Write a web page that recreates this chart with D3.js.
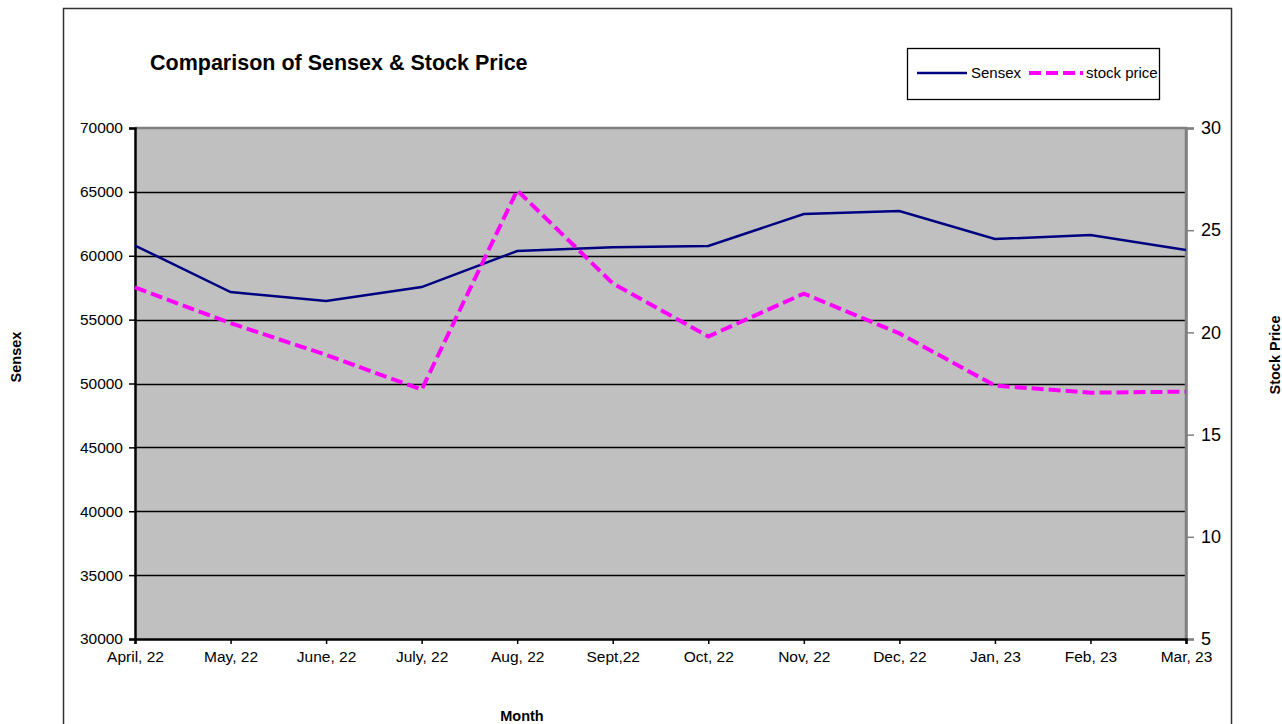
<!DOCTYPE html>
<html>
<head>
<meta charset="utf-8">
<script src="https://cdn.jsdelivr.net/npm/d3@7"></script>
<style>
  body { margin: 0; background: #fff; }
  svg { display: block; font-family: "Liberation Sans", Arial, sans-serif; }
</style>
</head>
<body>
<div id="area"></div>
<script>
const months = ["April, 22", "May, 22", "June, 22", "July, 22", "Aug, 22", "Sept,22", "Oct, 22", "Nov, 22", "Dec, 22", "Jan, 23", "Feb, 23", "Mar, 23"]
const sensex = [60800, 57160, 56460, 57550, 60370, 60660, 60760, 63270, 63500, 61310, 61620, 60450]
const stockPrice = [22.2, 20.45, 18.9, 17.2, 26.95, 22.4, 19.8, 21.9, 19.95, 17.4, 17.05, 17.1]
const sensexTicks = [30000, 35000, 40000, 45000, 50000, 55000, 60000, 65000, 70000]
const priceTicks = [5, 10, 15, 20, 25, 30]

const width = 1282
const height = 724
const plot = {left: 135, right: 1186, top: 128, bottom: 639}

const x = d3.scalePoint().domain(months).range([plot.left, plot.right])
const yLeft = d3.scaleLinear().domain([30000, 70000]).range([plot.bottom, plot.top])
const yRight = d3.scaleLinear().domain([5, 30]).range([plot.bottom, plot.top])

const svg = d3.select("#area").append("svg")
  .attr("width", width)
  .attr("height", height)

// chart area border
svg.append("rect")
  .attr("x", 63.5).attr("y", 8.5)
  .attr("width", 1168).attr("height", 740)
  .attr("fill", "#fff")
  .attr("stroke", "#333")
  .attr("stroke-width", 1.5)

svg.append("text")
  .attr("x", 150).attr("y", 70)
  .attr("font-size", 21.5)
  .attr("font-weight", "bold")
  .text("Comparison of Sensex & Stock Price")

// plot background
svg.append("rect")
  .attr("x", plot.left).attr("y", plot.top)
  .attr("width", plot.right - plot.left)
  .attr("height", plot.bottom - plot.top)
  .attr("fill", "#c0c0c0")

svg.append("g")
  .selectAll("line")
  .data(sensexTicks.filter(d => d > 30000 && d < 70000))
  .join("line")
  .attr("x1", plot.left).attr("x2", plot.right)
  .attr("y1", d => Math.round(yLeft(d)) + 0.5)
  .attr("y2", d => Math.round(yLeft(d)) + 0.5)
  .attr("stroke", "#000")
  .attr("stroke-width", 1.3)

// gray top and right frame
svg.append("path")
  .attr("d", `M${plot.left},${plot.top}H${plot.right}V${plot.bottom}`)
  .attr("fill", "none")
  .attr("stroke", "#808080")
  .attr("stroke-width", 2.5)

const leftAxis = svg.append("g")
  .attr("transform", `translate(${plot.left},0)`)
  .call(d3.axisLeft(yLeft).tickValues(sensexTicks).tickSize(6).tickPadding(6).tickFormat(d3.format("d")))
leftAxis.selectAll("text").attr("font-size", 15.5).attr("fill", "#000")
leftAxis.selectAll("line").attr("stroke", "#000").attr("stroke-width", 1.5)
leftAxis.select(".domain").attr("stroke", "#000").attr("stroke-width", 2.5)

const rightAxis = svg.append("g")
  .attr("transform", `translate(${plot.right},0)`)
  .call(d3.axisRight(yRight).tickValues(priceTicks).tickSize(8).tickPadding(7))
rightAxis.selectAll("text").attr("font-size", 18).attr("fill", "#000")
rightAxis.selectAll("line").attr("stroke", "#808080").attr("stroke-width", 1.5)
rightAxis.select(".domain").attr("stroke", "#808080").attr("stroke-width", 2.5)

const bottomAxis = svg.append("g")
  .attr("transform", `translate(0,${plot.bottom})`)
  .call(d3.axisBottom(x).tickSize(5).tickPadding(7))
bottomAxis.selectAll("text").attr("font-size", 15.5).attr("fill", "#000")
bottomAxis.selectAll("line").attr("stroke", "#000").attr("stroke-width", 1.5)
bottomAxis.select(".domain").attr("stroke", "#000").attr("stroke-width", 2.5)

const sensexLine = d3.line().x((d, i) => x(months[i])).y(d => yLeft(d))
const priceLine = d3.line().x((d, i) => x(months[i])).y(d => yRight(d))

svg.append("path")
  .datum(sensex)
  .attr("d", sensexLine)
  .attr("fill", "none")
  .attr("stroke", "#000080")
  .attr("stroke-width", 2.5)

svg.append("path")
  .datum(stockPrice)
  .attr("d", priceLine)
  .attr("fill", "none")
  .attr("stroke", "#ff00ff")
  .attr("stroke-width", 4)
  .attr("stroke-dasharray", "12,5")

// axis titles
svg.append("text")
  .attr("transform", "translate(21,357) rotate(-90)")
  .attr("text-anchor", "middle")
  .attr("font-size", 14.5)
  .attr("font-weight", "bold")
  .text("Sensex")

svg.append("text")
  .attr("transform", "translate(1280,355) rotate(-90)")
  .attr("text-anchor", "middle")
  .attr("font-size", 14.5)
  .attr("font-weight", "bold")
  .text("Stock Price")

svg.append("text")
  .attr("x", 522).attr("y", 721)
  .attr("text-anchor", "middle")
  .attr("font-size", 14.5)
  .attr("font-weight", "bold")
  .text("Month")

// legend
const legend = svg.append("g")
legend.append("rect")
  .attr("x", 907.5).attr("y", 48.5)
  .attr("width", 252).attr("height", 51)
  .attr("fill", "#fff")
  .attr("stroke", "#000")
  .attr("stroke-width", 1.3)
legend.append("line")
  .attr("x1", 917).attr("x2", 967).attr("y1", 73).attr("y2", 73)
  .attr("stroke", "#000080").attr("stroke-width", 2.5)
legend.append("text")
  .attr("x", 971).attr("y", 78)
  .attr("font-size", 15)
  .text("Sensex")
legend.append("line")
  .attr("x1", 1029).attr("x2", 1083).attr("y1", 73).attr("y2", 73)
  .attr("stroke", "#ff00ff").attr("stroke-width", 4)
  .attr("stroke-dasharray", "12,5")
legend.append("text")
  .attr("x", 1086).attr("y", 78)
  .attr("font-size", 15)
  .text("stock price")
</script>
</body>
</html>
